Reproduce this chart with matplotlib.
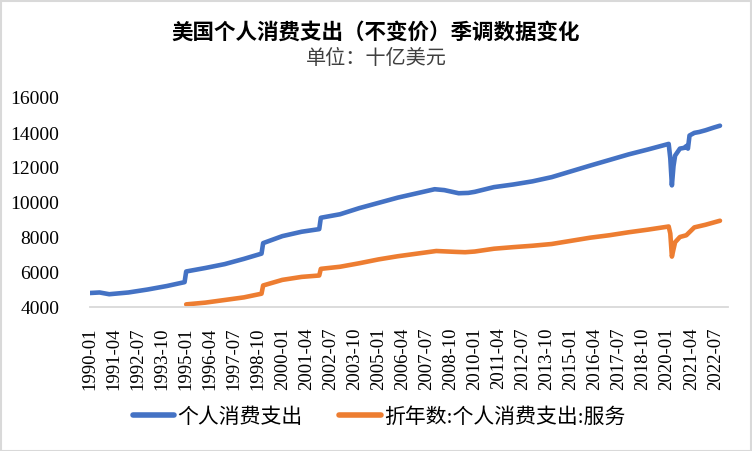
import matplotlib
matplotlib.use("Agg")
import matplotlib.pyplot as plt
from matplotlib.patches import Rectangle
import pandas as pd

plt.rcParams['font.family'] = ['Liberation Serif', 'Noto Sans CJK SC', 'DejaVu Sans']

title = "美国个人消费支出（不变价）季调数据变化"
subtitle = "单位：十亿美元"
series_names = ["个人消费支出", "折年数:个人消费支出:服务"]

# monthly category axis 1990-01 .. 2022-10
first_month = "1990-01"
last_month = "2022-10"
n_slots = 398

tick_labels = ["1990-01", "1991-04", "1992-07", "1993-10", "1995-01", "1996-04",
               "1997-07", "1998-10", "2000-01", "2001-04", "2002-07", "2003-10",
               "2005-01", "2006-04", "2007-07", "2008-10", "2010-01", "2011-04",
               "2012-07", "2013-10", "2015-01", "2016-04", "2017-07", "2018-10",
               "2020-01", "2021-04", "2022-07"]

pce_dates = ["1990-01", "1990-07", "1991-01", "1991-07", "1992-01", "1993-01", "1994-01",
             "1994-12", "1995-01", "1996-01", "1997-01", "1998-01", "1998-12", "1999-01",
             "2000-01", "2001-01", "2001-12", "2002-01", "2003-01", "2004-01", "2005-01",
             "2006-01", "2007-01", "2007-12", "2008-06", "2009-03", "2009-09", "2010-01",
             "2011-01", "2012-01", "2013-01", "2014-01", "2015-01", "2016-01", "2017-01",
             "2018-01", "2019-01", "2020-02", "2020-03", "2020-04", "2020-05", "2020-06",
             "2020-09", "2020-12", "2021-01", "2021-02", "2021-03", "2021-06", "2021-09",
             "2022-01", "2022-06", "2022-10"]
pce_values = [4800, 4830, 4730, 4780, 4830, 5000, 5200,
              5420, 6030, 6230, 6450, 6750, 7050, 7650,
              8050, 8300, 8450, 9100, 9300, 9650, 9950,
              10250, 10500, 10730, 10680, 10500, 10520, 10580,
              10850, 11000, 11180, 11420, 11750, 12080, 12400,
              12720, 13000, 13320, 12500, 10950, 12050, 12650,
              13050, 13100, 13200, 13050, 13800, 13950, 14000,
              14100, 14250, 14360]

svc_dates = ["1995-01", "1996-01", "1997-01", "1998-01", "1998-12", "1999-01", "2000-01",
             "2001-01", "2001-12", "2002-01", "2003-01", "2004-01", "2005-01", "2006-01",
             "2007-01", "2008-01", "2009-01", "2009-07", "2010-01", "2011-01", "2012-01",
             "2013-01", "2014-01", "2015-01", "2016-01", "2017-01", "2018-01", "2019-01",
             "2020-02", "2020-03", "2020-04", "2020-05", "2020-06", "2020-09", "2021-01",
             "2021-06", "2022-01", "2022-10"]
svc_values = [4150, 4250, 4400, 4550, 4760, 5230, 5550,
              5720, 5800, 6180, 6300, 6500, 6720, 6900,
              7050, 7200, 7150, 7130, 7170, 7330, 7420,
              7500, 7600, 7780, 7960, 8100, 8270, 8420,
              8600, 8200, 6880, 7300, 7700, 8000, 8100,
              8550, 8700, 8930]

months = [p.strftime("%Y-%m") for p in pd.period_range(first_month, last_month, freq="M")]
pos = {m: i for i, m in enumerate(months)}

fig = plt.figure(figsize=(7.52, 4.52), dpi=100)
ax = fig.add_axes([90/752, 1-308/452, 638/752, 210/452])

blue = "#4472C4"
orange = "#ED7D31"
ax.plot([pos[d] for d in pce_dates], pce_values, color=blue, lw=3.3,
        solid_capstyle="round", solid_joinstyle="round", label=series_names[0])
ax.plot([pos[d] for d in svc_dates], svc_values, color=orange, lw=3.3,
        solid_capstyle="round", solid_joinstyle="round", label=series_names[1])

ax.set_xlim(0, n_slots)
ax.set_ylim(4000, 16000)
ax.set_yticks(range(4000, 16001, 2000))
ax.set_yticklabels([str(v) for v in range(4000, 16001, 2000)], fontsize=14)
ax.set_xticks([pos[t] for t in tick_labels])
ax.set_xticklabels(tick_labels, rotation=90, fontsize=13.5)
ax.tick_params(axis="both", length=0)
ax.tick_params(axis="y", pad=22)
ax.tick_params(axis="x", pad=14)
for s in ["top", "right", "left"]:
    ax.spines[s].set_visible(False)
ax.spines["bottom"].set_color("#D9D9D9")
ax.spines["bottom"].set_linewidth(1.3)

fig.text(0.5, 1-32/452, title, ha="center", va="center", fontsize=15.5,
         fontweight="bold", family=["Noto Sans CJK SC"], color="#000000")
fig.text(0.5, 1-58/452, subtitle, ha="center", va="center", fontsize=14.5,
         family=["Noto Sans CJK SC"], color="#404040")

leg = fig.legend(loc="center", bbox_to_anchor=(379/752, 1-418/452), ncol=2,
                 frameon=False, handlelength=2.0, handletextpad=0.15,
                 columnspacing=1.75, prop={"size": 15})
for line in leg.get_lines():
    line.set_linewidth(4)

fig.patches.append(Rectangle((0.5/752, 0.5/452), 750/752, 450/452,
                             transform=fig.transFigure, fill=False,
                             edgecolor="#D9D9D9", lw=1.5))

fig.savefig("out.png", dpi=100)
